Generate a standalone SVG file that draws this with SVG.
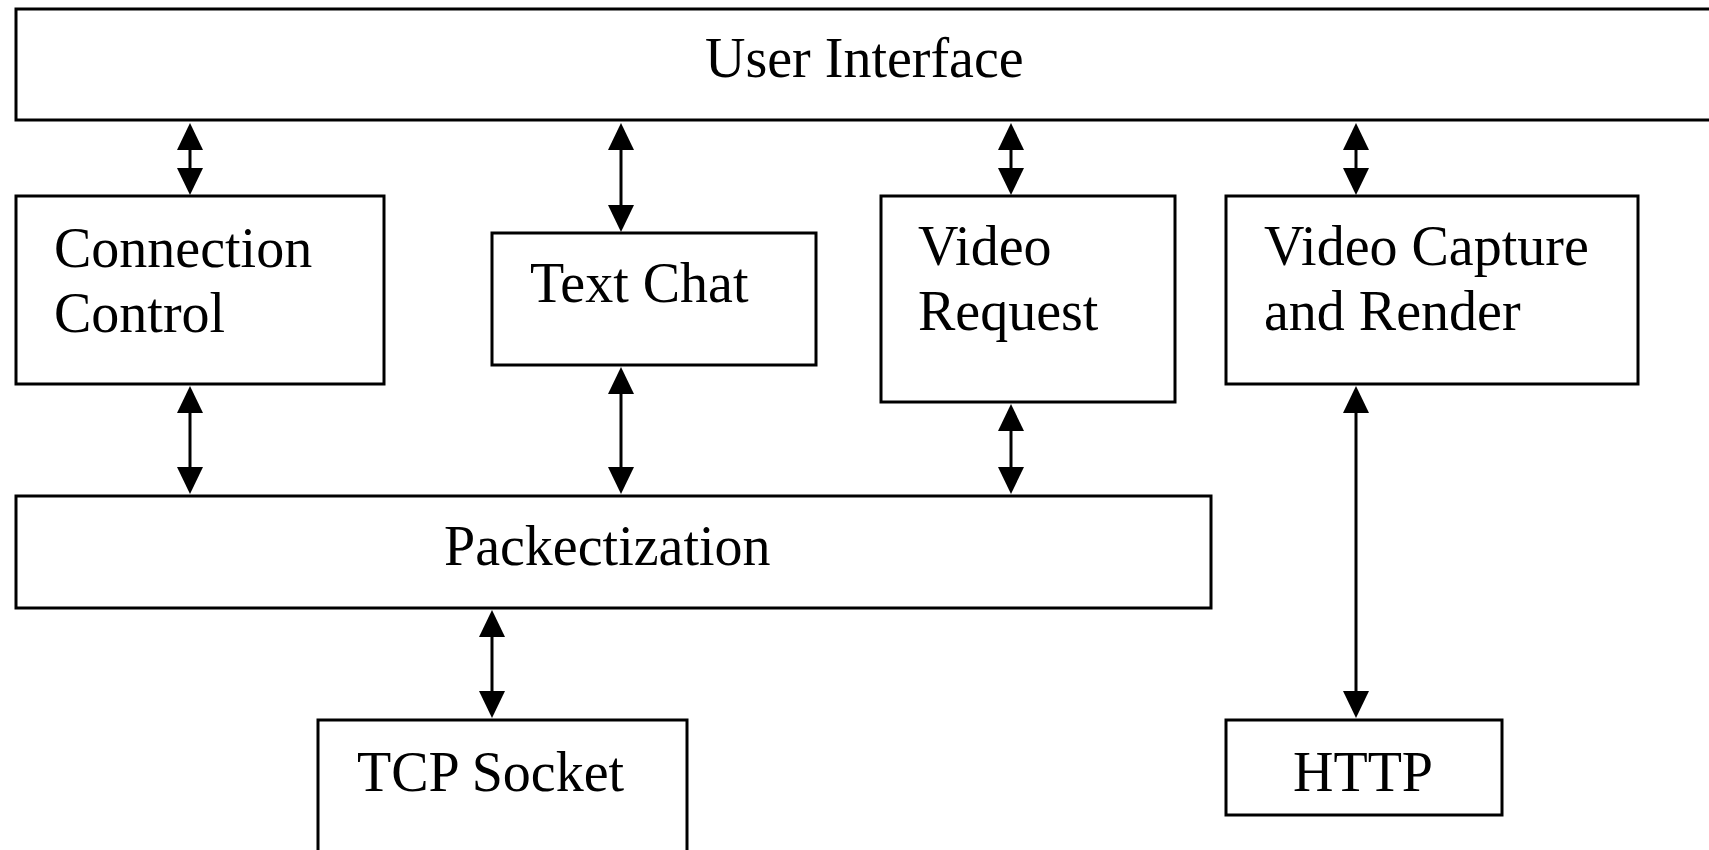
<svg xmlns="http://www.w3.org/2000/svg" width="1709" height="850" viewBox="0 0 1709 850">
<style>
.box{fill:#fff;stroke:#000;stroke-width:3}
.lbl{font-family:"Liberation Serif","Times New Roman",serif;font-size:56px;fill:#000}
.conn{stroke:#000;stroke-width:3;fill:none;marker-start:url(#ah);marker-end:url(#ah)}
</style>
<defs>
<marker id="ah" viewBox="0 0 27 26" refX="7" refY="13" markerWidth="27" markerHeight="26" markerUnits="userSpaceOnUse" orient="auto-start-reverse">
<path d="M0,0 L27,13 L0,26 z" fill="#000"/>
</marker>
</defs>
<rect x="0" y="0" width="1709" height="850" fill="#fff"/>
<g id="user-interface"><rect class="box" x="16" y="9" width="1700" height="111"/><text class="lbl" x="705" y="77">User Interface</text></g>
<g id="connection-control"><rect class="box" x="16" y="196" width="368" height="188"/><text class="lbl" x="54" y="267">Connection</text><text class="lbl" x="54" y="332">Control</text></g>
<g id="text-chat"><rect class="box" x="492" y="233" width="324" height="132"/><text class="lbl" x="530" y="302">Text Chat</text></g>
<g id="video-request"><rect class="box" x="881" y="196" width="294" height="206"/><text class="lbl" x="918" y="265">Video</text><text class="lbl" x="918" y="330">Request</text></g>
<g id="video-capture"><rect class="box" x="1226" y="196" width="412" height="188"/><text class="lbl" x="1264" y="265">Video Capture</text><text class="lbl" x="1264" y="330">and Render</text></g>
<g id="packectization"><rect class="box" x="16" y="496" width="1195" height="112"/><text class="lbl" x="444" y="565">Packectization</text></g>
<g id="tcp-socket"><rect class="box" x="318" y="720" width="369" height="150"/><text class="lbl" x="357" y="791">TCP Socket</text></g>
<g id="http"><rect class="box" x="1226" y="720" width="276" height="95"/><text class="lbl" x="1293" y="791">HTTP</text></g>
<g id="connectors">
<line class="conn" x1="190" y1="143" x2="190" y2="175"/>
<line class="conn" x1="621" y1="143" x2="621" y2="212"/>
<line class="conn" x1="1011" y1="143" x2="1011" y2="175"/>
<line class="conn" x1="1356" y1="143" x2="1356" y2="175"/>
<line class="conn" x1="190" y1="406" x2="190" y2="474"/>
<line class="conn" x1="621" y1="387" x2="621" y2="474"/>
<line class="conn" x1="1011" y1="424" x2="1011" y2="474"/>
<line class="conn" x1="492" y1="630" x2="492" y2="698"/>
<line class="conn" x1="1356" y1="406" x2="1356" y2="698"/>
</g>
</svg>
